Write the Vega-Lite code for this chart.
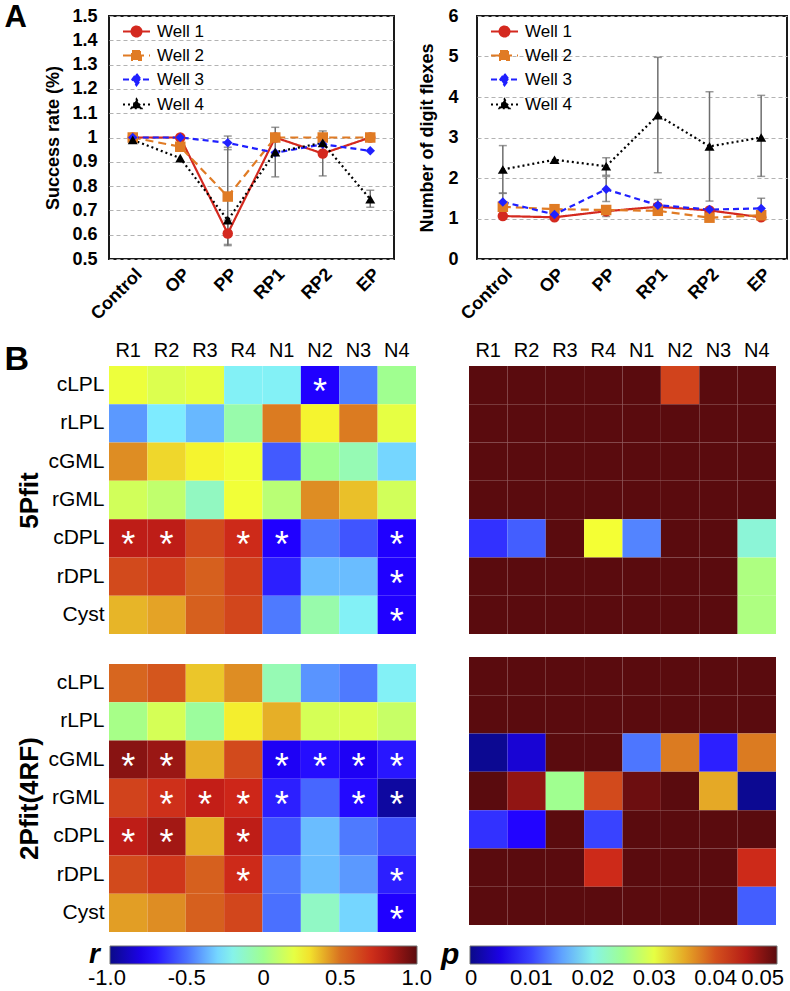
{
"$schema": "https://vega.github.io/schema/vega-lite/v6.json",
"background": "white",
"padding": {"left": 3, "top": 0, "right": 0, "bottom": 0},
"config": {
  "font": "Liberation Sans",
  "view": {"stroke": null},
  "axis": {"labelColor": "#000", "titleColor": "#000"},
  "legend": {"gradientHorizontalMaxLength": 400, "labelColor": "#000", "titleColor": "#000"},
  "title": {"color": "#000"}
},
"datasets": {
  "success": [
    {"s":"Control","w":"Well 1","v":1.0},
    {"s":"OP","w":"Well 1","v":1.0},
    {"s":"PP","w":"Well 1","v":0.605,"lo":0.555,"hi":0.66},
    {"s":"RP1","w":"Well 1","v":1.0},
    {"s":"RP2","w":"Well 1","v":0.934,"lo":0.842,"hi":1.027},
    {"s":"EP","w":"Well 1","v":1.0},
    {"s":"Control","w":"Well 2","v":1.0},
    {"s":"OP","w":"Well 2","v":0.962},
    {"s":"PP","w":"Well 2","v":0.757,"lo":0.56,"hi":0.96},
    {"s":"RP1","w":"Well 2","v":1.0},
    {"s":"RP2","w":"Well 2","v":1.0},
    {"s":"EP","w":"Well 2","v":1.0},
    {"s":"Control","w":"Well 3","v":1.0},
    {"s":"OP","w":"Well 3","v":1.0},
    {"s":"PP","w":"Well 3","v":0.978,"lo":0.95,"hi":1.006},
    {"s":"RP1","w":"Well 3","v":0.937},
    {"s":"RP2","w":"Well 3","v":0.972},
    {"s":"EP","w":"Well 3","v":0.945},
    {"s":"Control","w":"Well 4","v":0.99},
    {"s":"OP","w":"Well 4","v":0.915},
    {"s":"PP","w":"Well 4","v":0.66},
    {"s":"RP1","w":"Well 4","v":0.94,"lo":0.838,"hi":1.042},
    {"s":"RP2","w":"Well 4","v":0.978},
    {"s":"EP","w":"Well 4","v":0.746,"lo":0.713,"hi":0.783}
  ],
  "flex": [
    {"s":"Control","w":"Well 1","v":1.06},
    {"s":"OP","w":"Well 1","v":1.03},
    {"s":"PP","w":"Well 1","v":1.18,"lo":1.05,"hi":1.3},
    {"s":"RP1","w":"Well 1","v":1.29},
    {"s":"RP2","w":"Well 1","v":1.2},
    {"s":"EP","w":"Well 1","v":1.03},
    {"s":"Control","w":"Well 2","v":1.29},
    {"s":"OP","w":"Well 2","v":1.23},
    {"s":"PP","w":"Well 2","v":1.21},
    {"s":"RP1","w":"Well 2","v":1.19},
    {"s":"RP2","w":"Well 2","v":1.02},
    {"s":"EP","w":"Well 2","v":1.08},
    {"s":"Control","w":"Well 3","v":1.41,"lo":1.2,"hi":1.62},
    {"s":"OP","w":"Well 3","v":1.1},
    {"s":"PP","w":"Well 3","v":1.72,"lo":1.42,"hi":2.04},
    {"s":"RP1","w":"Well 3","v":1.33,"lo":1.2,"hi":1.47},
    {"s":"RP2","w":"Well 3","v":1.22},
    {"s":"EP","w":"Well 3","v":1.25,"lo":1.0,"hi":1.5},
    {"s":"Control","w":"Well 4","v":2.21,"lo":1.63,"hi":2.8},
    {"s":"OP","w":"Well 4","v":2.45},
    {"s":"PP","w":"Well 4","v":2.29,"lo":2.07,"hi":2.5},
    {"s":"RP1","w":"Well 4","v":3.55,"lo":2.13,"hi":4.98},
    {"s":"RP2","w":"Well 4","v":2.78,"lo":1.43,"hi":4.13},
    {"s":"EP","w":"Well 4","v":3.0,"lo":2.04,"hi":4.04}
  ],
  "heat": [
    {"fit":"5Pfit","row":"cLPL","col":"R1","r":0.22,"p":0.05,"s":""},
    {"fit":"5Pfit","row":"cLPL","col":"R2","r":0.17,"p":0.05,"s":""},
    {"fit":"5Pfit","row":"cLPL","col":"R3","r":0.2,"p":0.05,"s":""},
    {"fit":"5Pfit","row":"cLPL","col":"R4","r":-0.23,"p":0.05,"s":""},
    {"fit":"5Pfit","row":"cLPL","col":"N1","r":-0.23,"p":0.05,"s":""},
    {"fit":"5Pfit","row":"cLPL","col":"N2","r":-0.75,"p":0.041,"s":"*"},
    {"fit":"5Pfit","row":"cLPL","col":"N3","r":-0.47,"p":0.05,"s":""},
    {"fit":"5Pfit","row":"cLPL","col":"N4","r":0.0,"p":0.05,"s":""},
    {"fit":"5Pfit","row":"rLPL","col":"R1","r":-0.42,"p":0.05,"s":""},
    {"fit":"5Pfit","row":"rLPL","col":"R2","r":-0.26,"p":0.05,"s":""},
    {"fit":"5Pfit","row":"rLPL","col":"R3","r":-0.36,"p":0.05,"s":""},
    {"fit":"5Pfit","row":"rLPL","col":"R4","r":-0.06,"p":0.05,"s":""},
    {"fit":"5Pfit","row":"rLPL","col":"N1","r":0.48,"p":0.05,"s":""},
    {"fit":"5Pfit","row":"rLPL","col":"N2","r":0.27,"p":0.05,"s":""},
    {"fit":"5Pfit","row":"rLPL","col":"N3","r":0.48,"p":0.05,"s":""},
    {"fit":"5Pfit","row":"rLPL","col":"N4","r":0.2,"p":0.05,"s":""},
    {"fit":"5Pfit","row":"cGML","col":"R1","r":0.45,"p":0.05,"s":""},
    {"fit":"5Pfit","row":"cGML","col":"R2","r":0.32,"p":0.05,"s":""},
    {"fit":"5Pfit","row":"cGML","col":"R3","r":0.27,"p":0.05,"s":""},
    {"fit":"5Pfit","row":"cGML","col":"R4","r":0.23,"p":0.05,"s":""},
    {"fit":"5Pfit","row":"cGML","col":"N1","r":-0.55,"p":0.05,"s":""},
    {"fit":"5Pfit","row":"cGML","col":"N2","r":0.0,"p":0.05,"s":""},
    {"fit":"5Pfit","row":"cGML","col":"N3","r":-0.08,"p":0.05,"s":""},
    {"fit":"5Pfit","row":"cGML","col":"N4","r":-0.3,"p":0.05,"s":""},
    {"fit":"5Pfit","row":"rGML","col":"R1","r":0.14,"p":0.05,"s":""},
    {"fit":"5Pfit","row":"rGML","col":"R2","r":0.09,"p":0.05,"s":""},
    {"fit":"5Pfit","row":"rGML","col":"R3","r":-0.11,"p":0.05,"s":""},
    {"fit":"5Pfit","row":"rGML","col":"R4","r":0.23,"p":0.05,"s":""},
    {"fit":"5Pfit","row":"rGML","col":"N1","r":0.07,"p":0.05,"s":""},
    {"fit":"5Pfit","row":"rGML","col":"N2","r":0.45,"p":0.05,"s":""},
    {"fit":"5Pfit","row":"rGML","col":"N3","r":0.36,"p":0.05,"s":""},
    {"fit":"5Pfit","row":"rGML","col":"N4","r":0.14,"p":0.05,"s":""},
    {"fit":"5Pfit","row":"cDPL","col":"R1","r":0.78,"p":0.009,"s":"*"},
    {"fit":"5Pfit","row":"cDPL","col":"R2","r":0.78,"p":0.0115,"s":"*"},
    {"fit":"5Pfit","row":"cDPL","col":"R3","r":0.62,"p":0.05,"s":""},
    {"fit":"5Pfit","row":"cDPL","col":"R4","r":0.72,"p":0.031,"s":"*"},
    {"fit":"5Pfit","row":"cDPL","col":"N1","r":-0.75,"p":0.0135,"s":"*"},
    {"fit":"5Pfit","row":"cDPL","col":"N2","r":-0.48,"p":0.05,"s":""},
    {"fit":"5Pfit","row":"cDPL","col":"N3","r":-0.56,"p":0.05,"s":""},
    {"fit":"5Pfit","row":"cDPL","col":"N4","r":-0.75,"p":0.021,"s":"*"},
    {"fit":"5Pfit","row":"rDPL","col":"R1","r":0.62,"p":0.05,"s":""},
    {"fit":"5Pfit","row":"rDPL","col":"R2","r":0.66,"p":0.05,"s":""},
    {"fit":"5Pfit","row":"rDPL","col":"R3","r":0.55,"p":0.05,"s":""},
    {"fit":"5Pfit","row":"rDPL","col":"R4","r":0.66,"p":0.05,"s":""},
    {"fit":"5Pfit","row":"rDPL","col":"N1","r":-0.68,"p":0.05,"s":""},
    {"fit":"5Pfit","row":"rDPL","col":"N2","r":-0.35,"p":0.05,"s":""},
    {"fit":"5Pfit","row":"rDPL","col":"N3","r":-0.35,"p":0.05,"s":""},
    {"fit":"5Pfit","row":"rDPL","col":"N4","r":-0.75,"p":0.026,"s":"*"},
    {"fit":"5Pfit","row":"Cyst","col":"R1","r":0.38,"p":0.05,"s":""},
    {"fit":"5Pfit","row":"Cyst","col":"R2","r":0.41,"p":0.05,"s":""},
    {"fit":"5Pfit","row":"Cyst","col":"R3","r":0.55,"p":0.05,"s":""},
    {"fit":"5Pfit","row":"Cyst","col":"R4","r":0.63,"p":0.05,"s":""},
    {"fit":"5Pfit","row":"Cyst","col":"N1","r":-0.48,"p":0.05,"s":""},
    {"fit":"5Pfit","row":"Cyst","col":"N2","r":-0.06,"p":0.05,"s":""},
    {"fit":"5Pfit","row":"Cyst","col":"N3","r":-0.23,"p":0.05,"s":""},
    {"fit":"5Pfit","row":"Cyst","col":"N4","r":-0.75,"p":0.026,"s":"*"},
    {"fit":"2Pfit","row":"cLPL","col":"R1","r":0.53,"p":0.05,"s":""},
    {"fit":"2Pfit","row":"cLPL","col":"R2","r":0.58,"p":0.05,"s":""},
    {"fit":"2Pfit","row":"cLPL","col":"R3","r":0.35,"p":0.05,"s":""},
    {"fit":"2Pfit","row":"cLPL","col":"R4","r":0.45,"p":0.05,"s":""},
    {"fit":"2Pfit","row":"cLPL","col":"N1","r":-0.08,"p":0.05,"s":""},
    {"fit":"2Pfit","row":"cLPL","col":"N2","r":-0.43,"p":0.05,"s":""},
    {"fit":"2Pfit","row":"cLPL","col":"N3","r":-0.48,"p":0.05,"s":""},
    {"fit":"2Pfit","row":"cLPL","col":"N4","r":-0.23,"p":0.05,"s":""},
    {"fit":"2Pfit","row":"rLPL","col":"R1","r":0.02,"p":0.05,"s":""},
    {"fit":"2Pfit","row":"rLPL","col":"R2","r":0.15,"p":0.05,"s":""},
    {"fit":"2Pfit","row":"rLPL","col":"R3","r":-0.03,"p":0.05,"s":""},
    {"fit":"2Pfit","row":"rLPL","col":"R4","r":0.28,"p":0.05,"s":""},
    {"fit":"2Pfit","row":"rLPL","col":"N1","r":0.39,"p":0.05,"s":""},
    {"fit":"2Pfit","row":"rLPL","col":"N2","r":0.15,"p":0.05,"s":""},
    {"fit":"2Pfit","row":"rLPL","col":"N3","r":0.17,"p":0.05,"s":""},
    {"fit":"2Pfit","row":"rLPL","col":"N4","r":0.11,"p":0.05,"s":""},
    {"fit":"2Pfit","row":"cGML","col":"R1","r":0.9,"p":0.0005,"s":"*"},
    {"fit":"2Pfit","row":"cGML","col":"R2","r":0.86,"p":0.004,"s":"*"},
    {"fit":"2Pfit","row":"cGML","col":"R3","r":0.39,"p":0.05,"s":""},
    {"fit":"2Pfit","row":"cGML","col":"R4","r":0.62,"p":0.05,"s":""},
    {"fit":"2Pfit","row":"cGML","col":"N1","r":-0.77,"p":0.0128,"s":"*"},
    {"fit":"2Pfit","row":"cGML","col":"N2","r":-0.72,"p":0.037,"s":"*"},
    {"fit":"2Pfit","row":"cGML","col":"N3","r":-0.77,"p":0.008,"s":"*"},
    {"fit":"2Pfit","row":"cGML","col":"N4","r":-0.7,"p":0.037,"s":"*"},
    {"fit":"2Pfit","row":"rGML","col":"R1","r":0.64,"p":0.05,"s":""},
    {"fit":"2Pfit","row":"rGML","col":"R2","r":0.7,"p":0.047,"s":"*"},
    {"fit":"2Pfit","row":"rGML","col":"R3","r":0.77,"p":0.025,"s":"*"},
    {"fit":"2Pfit","row":"rGML","col":"R4","r":0.73,"p":0.0405,"s":"*"},
    {"fit":"2Pfit","row":"rGML","col":"N1","r":-0.68,"p":0.049,"s":"*"},
    {"fit":"2Pfit","row":"rGML","col":"N2","r":-0.52,"p":0.05,"s":""},
    {"fit":"2Pfit","row":"rGML","col":"N3","r":-0.73,"p":0.035,"s":"*"},
    {"fit":"2Pfit","row":"rGML","col":"N4","r":-0.95,"p":0.0005,"s":"*"},
    {"fit":"2Pfit","row":"cDPL","col":"R1","r":0.78,"p":0.009,"s":"*"},
    {"fit":"2Pfit","row":"cDPL","col":"R2","r":0.84,"p":0.0065,"s":"*"},
    {"fit":"2Pfit","row":"cDPL","col":"R3","r":0.39,"p":0.05,"s":""},
    {"fit":"2Pfit","row":"cDPL","col":"R4","r":0.78,"p":0.01,"s":"*"},
    {"fit":"2Pfit","row":"cDPL","col":"N1","r":-0.57,"p":0.05,"s":""},
    {"fit":"2Pfit","row":"cDPL","col":"N2","r":-0.35,"p":0.05,"s":""},
    {"fit":"2Pfit","row":"cDPL","col":"N3","r":-0.48,"p":0.05,"s":""},
    {"fit":"2Pfit","row":"cDPL","col":"N4","r":-0.57,"p":0.05,"s":""},
    {"fit":"2Pfit","row":"rDPL","col":"R1","r":0.62,"p":0.05,"s":""},
    {"fit":"2Pfit","row":"rDPL","col":"R2","r":0.68,"p":0.05,"s":""},
    {"fit":"2Pfit","row":"rDPL","col":"R3","r":0.55,"p":0.05,"s":""},
    {"fit":"2Pfit","row":"rDPL","col":"R4","r":0.72,"p":0.043,"s":"*"},
    {"fit":"2Pfit","row":"rDPL","col":"N1","r":-0.48,"p":0.05,"s":""},
    {"fit":"2Pfit","row":"rDPL","col":"N2","r":-0.35,"p":0.05,"s":""},
    {"fit":"2Pfit","row":"rDPL","col":"N3","r":-0.42,"p":0.05,"s":""},
    {"fit":"2Pfit","row":"rDPL","col":"N4","r":-0.68,"p":0.043,"s":"*"},
    {"fit":"2Pfit","row":"Cyst","col":"R1","r":0.42,"p":0.05,"s":""},
    {"fit":"2Pfit","row":"Cyst","col":"R2","r":0.45,"p":0.05,"s":""},
    {"fit":"2Pfit","row":"Cyst","col":"R3","r":0.55,"p":0.05,"s":""},
    {"fit":"2Pfit","row":"Cyst","col":"R4","r":0.63,"p":0.05,"s":""},
    {"fit":"2Pfit","row":"Cyst","col":"N1","r":-0.5,"p":0.05,"s":""},
    {"fit":"2Pfit","row":"Cyst","col":"N2","r":-0.12,"p":0.05,"s":""},
    {"fit":"2Pfit","row":"Cyst","col":"N3","r":-0.3,"p":0.05,"s":""},
    {"fit":"2Pfit","row":"Cyst","col":"N4","r":-0.75,"p":0.0115,"s":"*"}
  ]
},
"columns": 1,
"align": "none",
"spacing": 16,
"resolve": {"scale": {"color": "independent", "fill": "independent", "stroke": "independent", "shape": "independent", "strokeDash": "independent"}, "legend": {"color": "independent", "fill": "independent", "stroke": "independent", "shape": "independent", "strokeDash": "independent"}},
"concat": [
  {
    "spacing": 22,
    "resolve": {"scale": {"fill": "independent", "stroke": "independent", "shape": "independent", "strokeDash": "independent"}, "legend": {"fill": "independent", "stroke": "independent", "shape": "independent", "strokeDash": "independent"}},
    "hconcat": [
      {
        "width": 285, "height": 243,
        "view": {"stroke": "#1a1a1a", "strokeWidth": 2},
        "data": {"name": "success"},
        "encoding": {
          "x": {"field": "s", "type": "ordinal", "sort": ["Control","OP","PP","RP1","RP2","EP"], "scale": {"type": "point", "padding": 0.5}, "axis": {"title": "A", "titleFontSize": 31, "titleFontWeight": "bold", "titleX": -105, "titleY": -233, "titleAngle": 0, "titleAlign": "left", "titleBaseline": "alphabetic", "labelAngle": -45, "labelFontSize": 18, "labelFontWeight": "bold", "labelPadding": 6, "ticks": false, "domain": false, "grid": false}},
          "y": {"field": "v", "type": "quantitative", "scale": {"domain": [0.5, 1.5], "nice": false, "zero": false}, "axis": {"title": "Success rate (%)", "titleFontSize": 18, "titleFontWeight": "bold", "titlePadding": 9, "labelFontSize": 18, "labelFontWeight": "bold", "labelPadding": 12, "ticks": false, "domain": false, "grid": true, "gridDash": [4,3], "gridColor": "#b3b3b3", "gridWidth": 1.2, "values": [0.5,0.6,0.7,0.8,0.9,1,1.1,1.2,1.3,1.4,1.5], "labelExpr": "datum.value == 1 ? '1' : format(datum.value, '.1f')", "labelOverlap": false, "labelBound": false, "labelFlush": false}}
        },
        "layer": [
          {"transform": [{"filter": "isValid(datum.lo)"}],
           "mark": {"type": "errorbar", "ticks": {"size": 8, "thickness": 1.5}, "color": "#6e6e6e", "thickness": 1.5},
           "encoding": {"y": {"field": "lo", "type": "quantitative", "scale": {"domain": [0.5, 1.5], "nice": false, "zero": false}, "axis": {"title": "Success rate (%)", "titleFontSize": 18, "titleFontWeight": "bold", "titlePadding": 9, "labelFontSize": 18, "labelFontWeight": "bold", "labelPadding": 12, "ticks": false, "domain": false, "grid": true, "gridDash": [4,3], "gridColor": "#b3b3b3", "gridWidth": 1.2, "values": [0.5,0.6,0.7,0.8,0.9,1,1.1,1.2,1.3,1.4,1.5], "labelExpr": "datum.value == 1 ? '1' : format(datum.value, '.1f')", "labelOverlap": false, "labelBound": false, "labelFlush": false}},
                        "y2": {"field": "hi"}}},
          {"transform": [{"filter": "datum.v > 100"}],
           "mark": {"type": "point", "filled": true, "strokeWidth": 2, "opacity": 1},
           "encoding": {
             "shape": {"field": "w", "type": "nominal", "scale": {"domain": ["Well 1","Well 2","Well 3","Well 4"], "range": ["M-2.7,0H2.7M1,0A1,1,0,1,1,-1,0A1,1,0,1,1,1,0Z","M-2.7,0H2.7M-0.9,-0.9H0.9V0.9H-0.9Z","M-2.7,0H2.7M0,-1.15L0.85,0L0,1.15L-0.85,0Z","M-2.7,0H2.7M0,-1.05L1,0.75L-1,0.75Z"]},
               "legend": {"orient": "top-left", "title": null, "offset": 0, "padding": 7, "symbolOffset": 12, "labelOffset": 12, "labelFontSize": 17, "rowPadding": 5, "symbolSize": 100, "symbolStrokeWidth": 2, "symbolOpacity": 1}},
             "fill": {"field": "w", "type": "nominal", "scale": {"domain": ["Well 1","Well 2","Well 3","Well 4"], "range": ["#d4291f","#e07b24","#2020ff","#000000"]}},
             "stroke": {"field": "w", "type": "nominal", "scale": {"domain": ["Well 1","Well 2","Well 3","Well 4"], "range": ["#d4291f","#e07b24","#2020ff","#000000"]}},
             "strokeDash": {"field": "w", "type": "nominal", "scale": {"domain": ["Well 1","Well 2","Well 3","Well 4"], "range": [[1,0],[8,5],[6,4],[2,3]]}}}},
          {"mark": {"type": "line", "strokeWidth": 2.2},
           "encoding": {"stroke": {"field": "w", "type": "nominal"}, "strokeDash": {"field": "w", "type": "nominal"}}},
          {"transform": [{"filter": "datum.w === 'Well 1'"}], "mark": {"type": "point", "shape": "circle", "filled": true, "size": 110, "color": "#d4291f", "opacity": 1}},
          {"transform": [{"filter": "datum.w === 'Well 2'"}], "mark": {"type": "point", "shape": "square", "filled": true, "size": 110, "color": "#e07b24", "opacity": 1}},
          {"transform": [{"filter": "datum.w === 'Well 3'"}], "mark": {"type": "point", "shape": "diamond", "filled": true, "size": 90, "color": "#2020ff", "opacity": 1}},
          {"transform": [{"filter": "datum.w === 'Well 4'"}], "mark": {"type": "point", "shape": "triangle-up", "filled": true, "size": 100, "color": "#000000", "opacity": 1}}
        ]
      },
      {
        "width": 310, "height": 243,
        "view": {"stroke": "#1a1a1a", "strokeWidth": 2},
        "data": {"name": "flex"},
        "encoding": {
          "x": {"field": "s", "type": "ordinal", "sort": ["Control","OP","PP","RP1","RP2","EP"], "scale": {"type": "point", "padding": 0.5}, "axis": {"title": null, "labelAngle": -45, "labelFontSize": 18, "labelFontWeight": "bold", "labelPadding": 6, "ticks": false, "domain": false, "grid": false}},
          "y": {"field": "v", "type": "quantitative", "scale": {"domain": [0, 6], "nice": false, "zero": false}, "axis": {"title": "Number of digit flexes", "titleFontSize": 18, "titleFontWeight": "bold", "titlePadding": 11, "labelFontSize": 18, "labelFontWeight": "bold", "labelPadding": 19, "ticks": false, "domain": false, "grid": true, "gridDash": [4,3], "gridColor": "#b3b3b3", "gridWidth": 1.2, "values": [0,1,2,3,4,5,6], "labelExpr": "format(datum.value, 'd')", "labelOverlap": false, "labelBound": false, "labelFlush": false}}
        },
        "layer": [
          {"transform": [{"filter": "isValid(datum.lo)"}],
           "mark": {"type": "errorbar", "ticks": {"size": 8, "thickness": 1.5}, "color": "#6e6e6e", "thickness": 1.5},
           "encoding": {"y": {"field": "lo", "type": "quantitative", "scale": {"domain": [0, 6], "nice": false, "zero": false}, "axis": {"title": "Number of digit flexes", "titleFontSize": 18, "titleFontWeight": "bold", "titlePadding": 11, "labelFontSize": 18, "labelFontWeight": "bold", "labelPadding": 19, "ticks": false, "domain": false, "grid": true, "gridDash": [4,3], "gridColor": "#b3b3b3", "gridWidth": 1.2, "values": [0,1,2,3,4,5,6], "labelExpr": "format(datum.value, 'd')", "labelOverlap": false, "labelBound": false, "labelFlush": false}},
                        "y2": {"field": "hi"}}},
          {"transform": [{"filter": "datum.v > 100"}],
           "mark": {"type": "point", "filled": true, "strokeWidth": 2, "opacity": 1},
           "encoding": {
             "shape": {"field": "w", "type": "nominal", "scale": {"domain": ["Well 1","Well 2","Well 3","Well 4"], "range": ["M-2.7,0H2.7M1,0A1,1,0,1,1,-1,0A1,1,0,1,1,1,0Z","M-2.7,0H2.7M-0.9,-0.9H0.9V0.9H-0.9Z","M-2.7,0H2.7M0,-1.15L0.85,0L0,1.15L-0.85,0Z","M-2.7,0H2.7M0,-1.05L1,0.75L-1,0.75Z"]},
               "legend": {"orient": "top-left", "title": null, "offset": 0, "padding": 7, "symbolOffset": 12, "labelOffset": 12, "labelFontSize": 17, "rowPadding": 5, "symbolSize": 100, "symbolStrokeWidth": 2, "symbolOpacity": 1}},
             "fill": {"field": "w", "type": "nominal", "scale": {"domain": ["Well 1","Well 2","Well 3","Well 4"], "range": ["#d4291f","#e07b24","#2020ff","#000000"]}},
             "stroke": {"field": "w", "type": "nominal", "scale": {"domain": ["Well 1","Well 2","Well 3","Well 4"], "range": ["#d4291f","#e07b24","#2020ff","#000000"]}},
             "strokeDash": {"field": "w", "type": "nominal", "scale": {"domain": ["Well 1","Well 2","Well 3","Well 4"], "range": [[1,0],[8,5],[6,4],[2,3]]}}}},
          {"mark": {"type": "line", "strokeWidth": 2.2},
           "encoding": {"stroke": {"field": "w", "type": "nominal"}, "strokeDash": {"field": "w", "type": "nominal"}}},
          {"transform": [{"filter": "datum.w === 'Well 1'"}], "mark": {"type": "point", "shape": "circle", "filled": true, "size": 110, "color": "#d4291f", "opacity": 1}},
          {"transform": [{"filter": "datum.w === 'Well 2'"}], "mark": {"type": "point", "shape": "square", "filled": true, "size": 110, "color": "#e07b24", "opacity": 1}},
          {"transform": [{"filter": "datum.w === 'Well 3'"}], "mark": {"type": "point", "shape": "diamond", "filled": true, "size": 90, "color": "#2020ff", "opacity": 1}},
          {"transform": [{"filter": "datum.w === 'Well 4'"}], "mark": {"type": "point", "shape": "triangle-up", "filled": true, "size": 100, "color": "#000000", "opacity": 1}}
        ]
      }
    ]
  },
  {
    "spacing": 9,
    "resolve": {"scale": {"color": "independent"}, "legend": {"color": "independent"}},
    "hconcat": [
      {
        "spacing": 23,
        "resolve": {"scale": {"color": "independent"}, "legend": {"color": "independent"}},
        "vconcat": [
          {
            "width": 307, "height": 268,
            "data": {"name": "heat"},
            "transform": [{"filter": "datum.fit === '5Pfit'"}],
            "encoding": {
              "x": {"field": "col", "type": "nominal", "sort": ["R1","R2","R3","R4","N1","N2","N3","N4"], "scale": {"paddingInner": 0, "paddingOuter": 0}, "axis": {"orient": "top", "title": "B", "titleFontSize": 34, "titleFontWeight": "bold", "titleX": -105, "titleY": 3, "titleAngle": 0, "titleAlign": "left", "titleBaseline": "alphabetic", "labelAngle": 0, "labelFontSize": 20, "labelPadding": 6, "ticks": false, "domain": false}},
              "y": {"field": "row", "type": "nominal", "sort": ["cLPL","rLPL","cGML","rGML","cDPL","rDPL","Cyst"], "scale": {"paddingInner": 0, "paddingOuter": 0}, "axis": {"title": "5Pfit", "titleFontSize": 26, "titleFontWeight": "bold", "titlePadding": 5, "labelFontSize": 21, "labelPadding": 5, "ticks": false, "domain": false}}
            },
            "layer": [
              {"mark": {"type": "rect"}, "encoding": {"color": {"field": "r", "type": "quantitative", "scale": {"type": "linear", "interpolate": "rgb", "domain": [-1,-0.75,-0.5,-0.25,0,0.25,0.5,0.75,1], "range": ["#0a0a88","#2000ff","#4a70ff","#80f0ff","#a0ff90","#f8ff30","#d87020","#cc2018","#5a0b0e"], "clamp": true}, "legend": null}}},
              {"mark": {"type": "text", "color": "white", "fontSize": 36, "baseline": "middle", "dy": 8}, "encoding": {"text": {"field": "s", "type": "nominal"}}}
            ]
          },
          {
            "width": 307, "height": 268,
            "data": {"name": "heat"},
            "transform": [{"filter": "datum.fit === '2Pfit'"}],
            "encoding": {
              "x": {"field": "col", "type": "nominal", "sort": ["R1","R2","R3","R4","N1","N2","N3","N4"], "scale": {"paddingInner": 0, "paddingOuter": 0}, "axis": null},
              "y": {"field": "row", "type": "nominal", "sort": ["cLPL","rLPL","cGML","rGML","cDPL","rDPL","Cyst"], "scale": {"paddingInner": 0, "paddingOuter": 0}, "axis": {"title": "2Pfit(4RF)", "titleFontSize": 26, "titleFontWeight": "bold", "titlePadding": 5, "labelFontSize": 21, "labelPadding": 5, "ticks": false, "domain": false}}
            },
            "layer": [
              {"mark": {"type": "rect"}, "encoding": {"color": {"field": "r", "type": "quantitative", "scale": {"type": "linear", "interpolate": "rgb", "domain": [-1,-0.75,-0.5,-0.25,0,0.25,0.5,0.75,1], "range": ["#0a0a88","#2000ff","#4a70ff","#80f0ff","#a0ff90","#f8ff30","#d87020","#cc2018","#5a0b0e"], "clamp": true},
                "legend": {"orient": "none", "legendX": -20, "legendY": 282, "direction": "horizontal", "gradientLength": 307, "gradientThickness": 18, "title": "r", "titleOrient": "left", "titleFontSize": 28, "titleFontStyle": "italic", "titleFontWeight": "bold", "titlePadding": 10, "values": [-1,-0.5,0,0.5,1], "labelExpr": "datum.value == 0 ? '0' : replace(format(datum.value, '.1f'), '\u2212', '-')", "labelFontSize": 22, "labelOffset": 4, "labelAlign": "center", "labelOverlap": false, "gradientStrokeColor": "#707070", "gradientStrokeWidth": 1, "padding": 0,
                  "encode": {"labels": {"update": {"dx": {"signal": "datum.value <= -1 ? -22 : datum.value >= 1 ? 15 : 0"}}}}}}}},
              {"mark": {"type": "text", "color": "white", "fontSize": 36, "baseline": "middle", "dy": 8}, "encoding": {"text": {"field": "s", "type": "nominal"}}}
            ]
          }
        ]
      },
      {
        "spacing": 23,
        "resolve": {"scale": {"color": "independent"}, "legend": {"color": "independent"}},
        "vconcat": [
          {
            "width": 307, "height": 268,
            "data": {"name": "heat"},
            "transform": [{"filter": "datum.fit === '5Pfit'"}],
            "mark": {"type": "rect"},
            "encoding": {
              "x": {"field": "col", "type": "nominal", "sort": ["R1","R2","R3","R4","N1","N2","N3","N4"], "scale": {"paddingInner": 0, "paddingOuter": 0}, "axis": {"orient": "top", "title": null, "labelAngle": 0, "labelFontSize": 20, "labelPadding": 6, "ticks": false, "domain": false}},
              "y": {"field": "row", "type": "nominal", "sort": ["cLPL","rLPL","cGML","rGML","cDPL","rDPL","Cyst"], "scale": {"paddingInner": 0, "paddingOuter": 0}, "axis": null},
              "color": {"field": "p", "type": "quantitative", "scale": {"type": "linear", "interpolate": "rgb", "domain": [0,0.00625,0.0125,0.01875,0.025,0.03125,0.0375,0.04375,0.05], "range": ["#0a0a88","#2000ff","#4a70ff","#80f0ff","#a0ff90","#f8ff30","#d87020","#cc2018","#5a0b0e"], "clamp": true}, "legend": null}
            }
          },
          {
            "width": 307, "height": 268,
            "data": {"name": "heat"},
            "transform": [{"filter": "datum.fit === '2Pfit'"}],
            "mark": {"type": "rect"},
            "encoding": {
              "x": {"field": "col", "type": "nominal", "sort": ["R1","R2","R3","R4","N1","N2","N3","N4"], "scale": {"paddingInner": 0, "paddingOuter": 0}, "axis": null},
              "y": {"field": "row", "type": "nominal", "sort": ["cLPL","rLPL","cGML","rGML","cDPL","rDPL","Cyst"], "scale": {"paddingInner": 0, "paddingOuter": 0}, "axis": null},
              "color": {"field": "p", "type": "quantitative", "scale": {"type": "linear", "interpolate": "rgb", "domain": [0,0.00625,0.0125,0.01875,0.025,0.03125,0.0375,0.04375,0.05], "range": ["#0a0a88","#2000ff","#4a70ff","#80f0ff","#a0ff90","#f8ff30","#d87020","#cc2018","#5a0b0e"], "clamp": true},
                "legend": {"orient": "none", "legendX": -28, "legendY": 289, "direction": "horizontal", "gradientLength": 307, "gradientThickness": 18, "title": "p", "titleOrient": "left", "titleFontSize": 30, "titleFontStyle": "italic", "titleFontWeight": "bold", "titlePadding": 10, "values": [0,0.01,0.02,0.03,0.04,0.05], "labelExpr": "datum.value == 0 ? '0' : format(datum.value, '.2f')", "labelFontSize": 22, "labelOffset": 4, "labelAlign": "center", "labelOverlap": false, "gradientStrokeColor": "#707070", "gradientStrokeWidth": 1, "padding": 0,
                  "encode": {"labels": {"update": {"dx": {"signal": "datum.value <= 0 ? -5 : datum.value >= 0.05 ? 7 : 0"}}}}}}
            }
          }
        ]
      }
    ]
  }
]
}
